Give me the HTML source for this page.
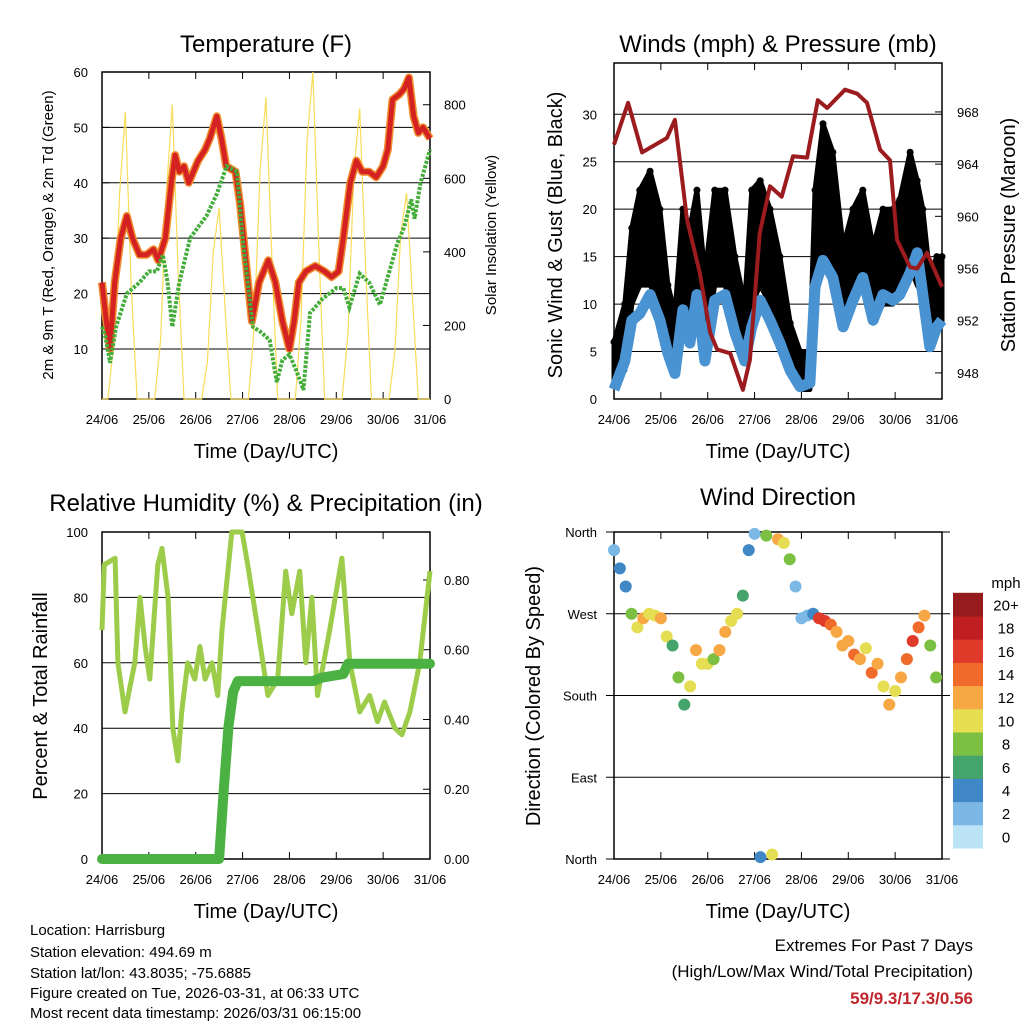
<!DOCTYPE html>
<html><head><meta charset="utf-8"><style>
body{margin:0;background:#fff}
svg text{font-family:"Liberation Sans",sans-serif;fill:#000}
</style></head><body>
<svg id="s" width="1024" height="1024" viewBox="0 0 1024 1024" xmlns="http://www.w3.org/2000/svg">
<rect width="1024" height="1024" fill="#fff"/>
<text x="266" y="52" font-size="24" text-anchor="middle">Temperature (F)</text>
<text x="778" y="52" font-size="24" text-anchor="middle">Winds (mph) &amp; Pressure (mb)</text>
<text x="266" y="511" font-size="24" text-anchor="middle">Relative Humidity (%) &amp; Precipitation (in)</text>
<text x="778" y="505" font-size="24" text-anchor="middle">Wind Direction</text>
<text x="266" y="458" font-size="20" text-anchor="middle">Time (Day/UTC)</text>
<text x="778" y="458" font-size="20" text-anchor="middle">Time (Day/UTC)</text>
<text x="266" y="918" font-size="20" text-anchor="middle">Time (Day/UTC)</text>
<text x="778" y="918" font-size="20" text-anchor="middle">Time (Day/UTC)</text>
<text transform="translate(53,235) rotate(-90)" font-size="15" text-anchor="middle">2m &amp; 9m T (Red, Orange) &amp; 2m Td (Green)</text>
<text transform="translate(496,235) rotate(-90)" font-size="15" text-anchor="middle">Solar Insolation (Yellow)</text>
<text transform="translate(562,235) rotate(-90)" font-size="20" text-anchor="middle">Sonic Wind &amp; Gust (Blue, Black)</text>
<text transform="translate(1015,235) rotate(-90)" font-size="20" text-anchor="middle">Station Pressure (Maroon)</text>
<text transform="translate(47,696) rotate(-90)" font-size="20" text-anchor="middle">Percent &amp; Total Rainfall</text>
<text transform="translate(540,696) rotate(-90)" font-size="20" text-anchor="middle">Direction (Colored By Speed)</text>
<g font-size="15">
<text x="30" y="935">Location: Harrisburg</text>
<text x="30" y="957">Station elevation: 494.69 m</text>
<text x="30" y="978">Station lat/lon: 43.8035; -75.6885</text>
<text x="30" y="998">Figure created on Tue, 2026-03-31, at 06:33 UTC</text>
<text x="30" y="1018">Most recent data timestamp: 2026/03/31 06:15:00</text>
</g>
<g font-size="17" text-anchor="end">
<text x="973" y="951">Extremes For Past 7 Days</text>
<text x="973" y="977">(High/Low/Max Wind/Total Precipitation)</text>
<text x="973" y="1004" font-weight="bold" style="fill:#c0272d">59/9.3/17.3/0.56</text>
</g>
</svg>
<script>
const dayLabels=["24/06","25/06","26/06","27/06","28/06","29/06","30/06","31/06"];
const tempT=[[0,22],[0.08,16],[0.17,10],[0.27,22],[0.4,30],[0.53,34],[0.65,30],[0.8,27],[0.95,27],[1.1,28],[1.2,26],[1.35,30],[1.48,40],[1.56,45],[1.65,42],[1.75,43],[1.85,40],[1.95,42],[2.05,44],[2.2,46],[2.3,48],[2.45,52],[2.55,48],[2.65,43],[2.85,42],[2.95,36],[3.08,25],[3.2,15],[3.35,22],[3.55,26],[3.7,22],[3.85,15],[4.0,10],[4.1,15],[4.2,22],[4.35,24],[4.55,25],[4.75,24],[4.9,23],[5.05,24],[5.15,30],[5.3,40],[5.43,44],[5.55,42],[5.7,42],[5.85,41],[6.0,43],[6.1,46],[6.2,55],[6.35,56],[6.45,57],[6.55,59],[6.65,52],[6.75,49],[6.85,50],[7.0,48]];
const tempTd=[[0,14],[0.08,12],[0.17,7.5],[0.3,14],[0.53,20],[0.8,22],[1.0,24],[1.17,24],[1.3,27],[1.4,22],[1.5,14],[1.65,22],[1.88,30],[2.05,32],[2.23,34],[2.45,38],[2.66,43],[2.88,42],[3.0,30],[3.22,14],[3.4,13],[3.58,11.6],[3.73,4],[3.85,8],[4.0,9],[4.15,6],[4.3,2.6],[4.44,16.5],[4.7,19],[5.0,21],[5.15,21],[5.28,17.5],[5.5,23.6],[5.7,22],[5.93,18],[6.1,23],[6.3,29],[6.45,32],[6.6,37],[6.67,33.5],[6.8,40],[7.0,46]];
const solarDay=[[0,0,150,560,780,300,0,0],[0,0,160,560,800,350,0,0],[0,0,100,400,520,250,0,0],[0,0,200,620,820,380,0,0],[0,0,220,700,889,420,0,0],[0,0,180,620,790,360,0,0],[0,0,130,450,560,280,0,0]];
const windTime=[0,0.23,0.38,0.55,0.77,0.98,1.15,1.3,1.47,1.62,1.77,1.94,2.15,2.37,2.58,2.79,2.94,3.12,3.33,3.54,3.76,3.97,4.18,4.29,4.46,4.67,4.89,5.1,5.31,5.53,5.74,5.95,6.1,6.32,6.47,6.59,6.74,6.89,7.0];
const windSpd=[1,4,8.3,9,11,8.3,4.8,2.7,9.4,5.9,11,4,10.4,11,7,4,7.6,10.4,8.3,5.9,3,1.3,1.7,11.8,14.6,12.8,7.6,10.4,12.8,8.3,11,10.4,11,13.3,15.4,11,5.5,7.6,8.3];
const gustLow=[2,3,10,12,12,10,5,3,8,8,12,5,12,12,8,5,10,12,10,7,3,1,1,10,15,14,8,10,12,8,10,10,11,14,12,11,6,7,8];
const gustHigh=[6,10,18,22,24,20,12,9,20,18,22,13,22,22,15,10,22,23,20,15,8,5,5,22,29,26,16,20,22,16,20,20,21,26,23,20,13,15,15];
const pressure=[[0,965.5],[0.3,968.7],[0.6,964.9],[1.13,966],[1.3,967.4],[1.56,959.7],[1.83,955.7],[2.05,951.1],[2.2,949.8],[2.48,949.5],[2.75,946.7],[2.9,949],[3.11,958.7],[3.33,962.3],[3.58,961.5],[3.82,964.6],[4.12,964.5],[4.35,968.9],[4.55,968.3],[4.93,969.7],[5.19,969.4],[5.4,968.7],[5.68,965.1],[5.89,964.3],[6.04,958.2],[6.32,956.1],[6.47,956],[6.68,957.2],[7,954.6]];
const rh=[[0,70],[0.05,90],[0.28,92],[0.34,60],[0.49,45],[0.7,60],[0.81,80],[0.92,65],[1.02,55],[1.19,90],[1.28,95],[1.41,80],[1.51,40],[1.62,30],[1.7,45],[1.83,60],[1.98,55],[2.09,65],[2.2,55],[2.35,60],[2.47,50],[2.56,70],[2.77,100],[2.99,100],[3.11,90],[3.33,70],[3.54,50],[3.75,55],[3.92,88],[4.05,75],[4.22,88],[4.35,60],[4.48,80],[4.6,50],[4.86,70],[5.12,92],[5.29,60],[5.5,45],[5.71,50],[5.88,42],[6.03,48],[6.25,40],[6.4,38],[6.57,45],[6.78,60],[7,88]];
const precip=[[0,0],[2.5,0],[2.6,0.2],[2.7,0.38],[2.8,0.48],[2.9,0.51],[4.5,0.51],[4.7,0.52],[5.15,0.53],[5.25,0.56],[7,0.56]];
const windDir=[340,320,300,270,255,265,270,268, 265,245,235,200,170,190,230,215, 215,220,230,250,262,270,290,340, 358,2,356,5,352,348,330,300, 265,268,270,265,262,258,250,235, 240,225,220,232,205,215,190,170, 185,200,220,240,255,268,235,200];
const dirSpeed=[2,3,4,8,10,11,9,9, 11,10,5,7,6,10,11,10, 9,8,11,12,10,9,6,3, 2,4,8,10,11,10,7,2, 2,1,3,15,16,14,11,12, 12,13,11,10,13,11,10,12, 9,11,13,15,14,12,8,7];
const speedColors=["#bde3f7","#7cb8e6","#3f88c5","#45a46c","#7bc043","#e6de52","#f7a844","#f06a2c","#e03a2a","#c01f22","#951b1c"];
const speedLabels=["0","2","4","6","8","10","12","14","16","18","20+"];

const S=document.getElementById('s');const NS="http://www.w3.org/2000/svg";
function mk(t,a,p){const e=document.createElementNS(NS,t);for(const k in a)e.setAttribute(k,a[k]);(p||S).appendChild(e);return e;}
function txt(x,y,s,sz,anc,p){const e=mk('text',{x:x,y:y,'font-size':sz,'text-anchor':anc},p);e.textContent=s;return e;}
function axX(L,R){return d=>L+(R-L)*d/7;}
function axY(T,B,lo,hi){return v=>B-(B-T)*(v-lo)/(hi-lo);}
function pathOf(pts,fx,fy){return pts.map((p,i)=>(i?'L':'M')+fx(p[0]).toFixed(1)+','+fy(p[1]).toFixed(1)).join('');}
function frame(L,R,T,B,name,p){
  const g=mk('g',{},p);
  
  
  mk('rect',{x:L,y:T,width:R-L,height:B-T,fill:'none',stroke:'#000','stroke-width':1.5},g);
  const fx=axX(L,R);
  for(let i=0;i<8;i++){const x=fx(i);mk('line',{x1:x,x2:x,y1:B,y2:B-7,stroke:'#000'},g);mk('line',{x1:x,x2:x,y1:T,y2:T+7,stroke:'#000'},g);
    const t=txt(x,B+25,dayLabels[i],13,'middle',g);
    
    }
  return g;
}
function hgrid(L,R,ys,g,ext){ys.forEach(y=>mk('line',{x1:L-(ext||0),x2:R+(ext||0),y1:y,y2:y,stroke:'#000','stroke-width':1},g));}

/* Panel 1: Temperature */
(function(){
  const L=102,R=430,T=72,B=399;const fx=axX(L,R),fy=axY(T,B,0.97,60),fs=axY(T,B,0,889);
  const g=frame(L,R,T,B,'temperature-panel');
  const ticks=[10,20,30,40,50,60];
  hgrid(L,R,ticks.slice(0,5).map(fy),g);
  ticks.forEach(v=>{const t=txt(L-14,fy(v)+5,String(v),13,'end',g);mk('line',{x1:L,x2:L+7,y1:fy(v),y2:fy(v),stroke:'#000'},g);});
  [0,200,400,600,800].forEach(v=>{const t=txt(R+14,fs(v)+5,String(v),13,'start',g);mk('line',{x1:R,x2:R-7,y1:fs(v),y2:fs(v),stroke:'#000'},g);});
  const sp=[];solarDay.forEach((day,d)=>day.forEach((v,k)=>sp.push([d+k/8,v])));sp.push([7,0]);
  const sol=mk('path',{d:pathOf(sp,fx,fs),fill:'none',stroke:'#f8dc5a','stroke-width':1.2},g);
  
  const o=mk('path',{d:pathOf(tempT,fx,fy),fill:'none',stroke:'#f08a2c','stroke-width':8,'stroke-linejoin':'round'},g);
  
  const r=mk('path',{d:pathOf(tempT,fx,fy),fill:'none',stroke:'#d42222','stroke-width':5,'stroke-linejoin':'round'},g);
  
  const gd=mk('path',{d:pathOf(tempTd,fx,fy),fill:'none',stroke:'#44ad3a','stroke-width':4,'stroke-dasharray':'3 1.5'},g);
  
})();

/* Panel 2: Winds & pressure */
(function(){
  const L=614,R=942,T=63,B=399;const fx=axX(L,R),fy=axY(T,B,0,35.4),fp=axY(T,B,946.0,971.75);
  const g=frame(L,R,T,B,'winds-panel');
  hgrid(L,R,[5,10,15,20,25,30].map(fy),g);
  [0,5,10,15,20,25,30].forEach(v=>{const t=txt(L-17,fy(v)+5,String(v),13,'end',g);});
  [948,952,956,960,964,968].forEach(v=>{const t=txt(R+15,fp(v)+5,String(v),13,'start',g);mk('line',{x1:R,x2:R-7,y1:fp(v),y2:fp(v),stroke:'#000'},g);});
  const hi=windTime.map((t,i)=>[t,gustHigh[i]]),lo=windTime.map((t,i)=>[t,gustLow[i]]).reverse();
  const band=mk('path',{d:pathOf(hi,fx,fy)+pathOf(lo,fx,fy).replace('M','L')+'Z',fill:'#000',stroke:'#000','stroke-width':5,'stroke-linejoin':'round'},g);
  
  hi.forEach(p=>{const c=mk('circle',{cx:fx(p[0]),cy:fy(p[1]),r:3.5,fill:'#000'},g);});
  const wp=windTime.map((t,i)=>[t,windSpd[i]]);
  const wl=mk('path',{d:pathOf(wp,fx,fy),fill:'none',stroke:'#4a93d2','stroke-width':11,'stroke-linejoin':'round'},g);
  
  const pl=mk('path',{d:pathOf(pressure,fx,fp),fill:'none',stroke:'#9b1b1e','stroke-width':4,'stroke-linejoin':'round'},g);
  
})();

/* Panel 3: RH & precip */
(function(){
  const L=102,R=430,T=532,B=859;const fx=axX(L,R),fy=axY(T,B,0,100),fq=axY(T,B,0,0.9375);
  const g=frame(L,R,T,B,'humidity-panel');
  hgrid(L,R,[20,40,60,80].map(fy),g);
  [0,20,40,60,80,100].forEach(v=>{const t=txt(L-14,fy(v)+5,String(v),13,'end',g);});
  [0,0.2,0.4,0.6,0.8].forEach(v=>{const t=txt(R+14,fq(v)+5,v.toFixed(2),13,'start',g);mk('line',{x1:R,x2:R-7,y1:fq(v),y2:fq(v),stroke:'#000'},g);});
  const rl=mk('path',{d:pathOf(rh,fx,fy),fill:'none',stroke:'#9ccc4a','stroke-width':5,'stroke-linejoin':'round'},g);
  
  const ql=mk('path',{d:pathOf(precip,fx,fq),fill:'none',stroke:'#4cb143','stroke-width':10,'stroke-linejoin':'round','stroke-linecap':'round'},g);
  
})();

/* Panel 4: Wind direction */
(function(){
  const L=614,R=942,T=532,B=859;const fx=axX(L,R),fy=axY(T,B,0,360);
  const g=frame(L,R,T,B,'direction-panel');
  hgrid(L,R,[0,90,180,270,360].map(fy),g,8);
  const dl=["North","East","South","West","North"];
  [0,90,180,270,360].forEach((v,i)=>{const t=txt(L-17,fy(v)+5,dl[i],13,'end',g);});
  windDir.forEach((v,i)=>{const s=dirSpeed[i];const ci=Math.min(10,Math.floor((s+1)/2));
    const c=mk('circle',{cx:fx(i/8),cy:fy(v),r:6,fill:speedColors[ci]},g);
    
    });
  const cb=mk('g',{},S);
  
  
  txt(1006,588,'mph',15,'middle',cb);
  const h=23.2;
  speedColors.forEach((c,i)=>{const y=848-(i+1)*h;mk('rect',{x:953,y:y,width:30,height:h+0.5,fill:c},cb);txt(1006,y+h/2+6,speedLabels[i],15,'middle',cb);});
})();
</script>
</body></html>
